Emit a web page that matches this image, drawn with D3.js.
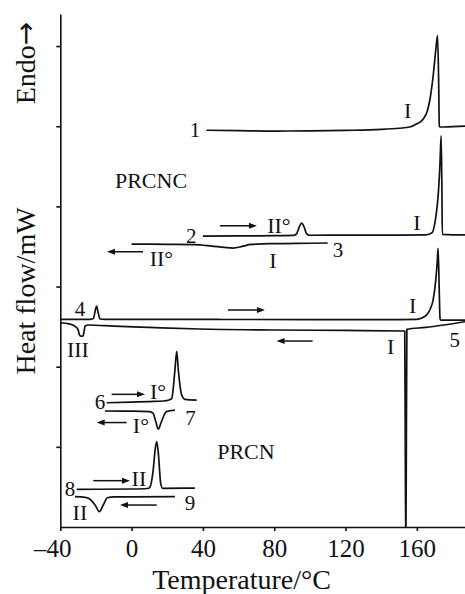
<!DOCTYPE html>
<html>
<head>
<meta charset="utf-8">
<script src="https://cdn.jsdelivr.net/npm/d3@7"></script>
<style>
  body { margin: 0; background: #fff; }
  text { font-family: "Liberation Serif", "Times New Roman", serif; fill: #111; }
</style>
</head>
<body>
<div id="chart"></div>
<script>
// axis ticks
const tempTicks = [-40, 0, 40, 80, 120, 160];
const flowTicks = [1, 2, 3, 4, 5, 6];

// DSC curves, [temperature °C, heat flow (arbitrary offset, mW)]
// PRCNC
const curve1 = [[42, 4.95], [60, 4.945], [80, 4.94], [100, 4.942], [120, 4.948], [140, 4.96], [150, 4.975],
  [156, 4.99], [160, 5.03], [163.6, 5.09], [166, 5.2], [167.3, 5.33], [169.1, 5.62], [170.6, 5.95],
  [171.6, 6.13], [172.2, 5.6], [172.6, 5.0], [173, 4.99], [180, 4.995], [187, 5.0]];
const curve2 = [[40, 3.63], [60, 3.632], [80, 3.634], [91, 3.637], [92.6, 3.66], [94, 3.74], [95.4, 3.79],
  [96.8, 3.74], [98.2, 3.655], [100, 3.64], [120, 3.641], [150, 3.642], [165, 3.645], [168.5, 3.67],
  [170.5, 3.85], [172, 4.15], [173, 4.55], [173.6, 4.88], [174, 4.3], [174.3, 3.65], [180, 3.645], [187, 3.645]];
const curve3 = [[0, 3.53], [20, 3.527], [35, 3.524], [45, 3.505], [52, 3.488], [57, 3.48], [62, 3.5],
  [67, 3.525], [80, 3.535], [100, 3.54], [110, 3.543]];
const curve4 = [[-40, 2.591], [-23, 2.591], [-21.5, 2.6], [-20.1, 2.73], [-19.6, 2.757], [-19, 2.7],
  [-17.7, 2.595], [-15, 2.59], [0, 2.59], [50, 2.589], [100, 2.588], [150, 2.588], [160, 2.59], [163, 2.61],
  [165.4, 2.644], [167.5, 2.72], [169.1, 2.83], [170.6, 3.08], [171.4, 3.3], [171.9, 3.476], [172.5, 3.0],
  [173, 2.6], [173.3, 2.582], [187, 2.582]];
const curve5 = [[-40, 2.548], [-35, 2.535], [-31.5, 2.5], [-30, 2.46], [-29.3, 2.4], [-28.5, 2.38],
  [-27.2, 2.385], [-26.6, 2.45], [-26, 2.51], [-24, 2.52], [-10, 2.505], [10, 2.49], [38, 2.47], [80, 2.458],
  [120, 2.452], [153.2, 2.445], [153.5, 1.0], [153.8, -0.3], [154.1, 1.0], [154.4, 2.466], [165, 2.49],
  [175, 2.52], [187, 2.561]];
// PRCN
const curve6 = [[-14, 1.55], [0, 1.558], [10, 1.565], [18, 1.572], [21, 1.585], [22.5, 1.605], [24.3, 1.958],
  [25.3, 2.19], [26.2, 1.958], [28.1, 1.647], [29.9, 1.593], [36.5, 1.584]];
const curve7 = [[-15, 1.447], [0, 1.445], [10, 1.44], [12, 1.42], [13.5, 1.32], [15, 1.22], [16.5, 1.3],
  [18.3, 1.4], [19.5, 1.44], [24.3, 1.459]];
const curve8 = [[-30.8, 0.47], [0, 0.474], [9, 0.48], [10.3, 0.5], [12.1, 0.71], [13.3, 0.98], [14.1, 1.064],
  [15, 0.92], [16.3, 0.545], [17.4, 0.483], [35.5, 0.486]];
const curve9 = [[-31.8, 0.378], [-26, 0.37], [-23.3, 0.346], [-20.5, 0.274], [-18.1, 0.191], [-15.9, 0.274],
  [-13.6, 0.365], [-10, 0.375], [24.3, 0.378]];

// scan direction arrows: [from T, to T, heat flow]
const arrows = [[49.5, 70.3, 3.758], [6.4, -13.8, 3.434], [54, 74.8, 2.707], [101.5, 81.3, 2.32],
  [-11.2, 7.5, 1.655], [-2.8, -19.6, 1.303], [-21.5, -0.9, 0.578], [14.1, -6.5, 0.274]];

// curve numbers and phase labels
const numberLabels = [["1", 35.5, 4.952], ["2", 33.5, 3.63], ["3", 115.7, 3.455], ["4", -29, 2.726],
  ["5", 181.3, 2.333], ["6", -17.7, 1.565], ["7", 33, 1.36], ["8", -34.6, 0.474], ["9", 32.7, 0.306]];
const phaseLabels = [["I", 154.9, 5.193], ["II°", 82.6, 3.761], ["I", 160, 3.804], ["I", 79.3, 3.33],
  ["II°", 16.7, 3.355], ["I", 157.6, 2.769], ["III", -30.1, 2.208], ["I", 145.3, 2.249],
  ["I°", 14.8, 1.69], ["I°", 5.2, 1.272], ["II", 4.1, 0.605], ["II", -29, 0.181]];
const sampleLabels = [["PRCNC", 10.9, 4.328], ["PRCN", 64.1, 0.936]];

const W = 465, H = 594;

const svg = d3.select("#chart").append("svg")
  .attr("width", W)
  .attr("height", H);

const x = d3.scaleLinear().domain([-40, 187]).range([60.3, 465]);
const y = d3.scaleLinear().domain([0, 6.4]).range([527, 14]);

svg.append("clipPath").attr("id", "plot")
  .append("rect")
  .attr("x", 60).attr("y", 14)
  .attr("width", W - 60).attr("height", 513);

// axes
const xAxis = svg.append("g")
  .attr("transform", "translate(0,527)")
  .call(d3.axisBottom(x).tickValues(tempTicks).tickSize(4).tickSizeOuter(0).tickPadding(8)
    .tickFormat(d => d < 0 ? "\u2013" + Math.abs(d) : d));
xAxis.selectAll("text")
  .style("font-size", "25px")
  .attr("dx", d => d < 0 ? -8 : 0);

const yAxis = svg.append("g")
  .attr("transform", "translate(60.3,0)")
  .call(d3.axisLeft(y).tickValues(flowTicks).tickSize(4).tickSizeOuter(0).tickFormat(""));

svg.selectAll(".domain, .tick line")
  .attr("stroke", "#111")
  .attr("stroke-width", 1.6);

// axis titles
svg.append("text")
  .attr("x", 241.5).attr("y", 589)
  .attr("text-anchor", "middle")
  .style("font-size", "28px")
  .text("Temperature/°C");

svg.append("text")
  .attr("transform", "translate(35,291) rotate(-90)")
  .attr("text-anchor", "middle")
  .style("font-size", "28px")
  .text("Heat flow/mW");

const endo = svg.append("text")
  .attr("transform", "translate(35,63) rotate(-90)")
  .attr("text-anchor", "middle")
  .style("font-size", "28px");
endo.append("tspan").text("Endo");
endo.append("tspan")
  .style("font-family", "'DejaVu Sans', sans-serif")
  .text("\u2192");

// curves
const line = d3.line()
  .x(d => x(d[0]))
  .y(d => y(d[1]))
  .curve(d3.curveMonotoneX);

const curves = [curve1, curve2, curve3, curve4, curve5, curve6, curve7, curve8, curve9];

svg.append("g")
  .attr("clip-path", "url(#plot)")
  .selectAll("path")
  .data(curves)
  .enter()
  .append("path")
  .attr("d", line)
  .attr("fill", "none")
  .attr("stroke", "#111")
  .attr("stroke-width", 1.7)
  .attr("stroke-linejoin", "round");

// arrows
const ag = svg.append("g");
arrows.forEach(function(a) {
  const x0 = x(a[0]), x1 = x(a[1]), yy = y(a[2]);
  const dir = x1 > x0 ? 1 : -1;
  ag.append("line")
    .attr("x1", x0).attr("y1", yy)
    .attr("x2", x1 - dir * 6).attr("y2", yy)
    .attr("stroke", "#111")
    .attr("stroke-width", 1.5);
  ag.append("path")
    .attr("d", "M" + x1 + "," + yy + "L" + (x1 - dir * 8) + "," + (yy - 3) + "L" + (x1 - dir * 8) + "," + (yy + 3) + "Z")
    .attr("fill", "#111");
});

// labels
function addLabels(list, size) {
  svg.append("g")
    .selectAll("text")
    .data(list)
    .enter()
    .append("text")
    .attr("x", d => x(d[1]))
    .attr("y", d => y(d[2]))
    .attr("dy", "0.34em")
    .attr("text-anchor", "middle")
    .style("font-size", size)
    .text(d => d[0]);
}
addLabels(numberLabels, "21px");
addLabels(phaseLabels, "22px");
addLabels(sampleLabels, "22px");
</script>
</body>
</html>
